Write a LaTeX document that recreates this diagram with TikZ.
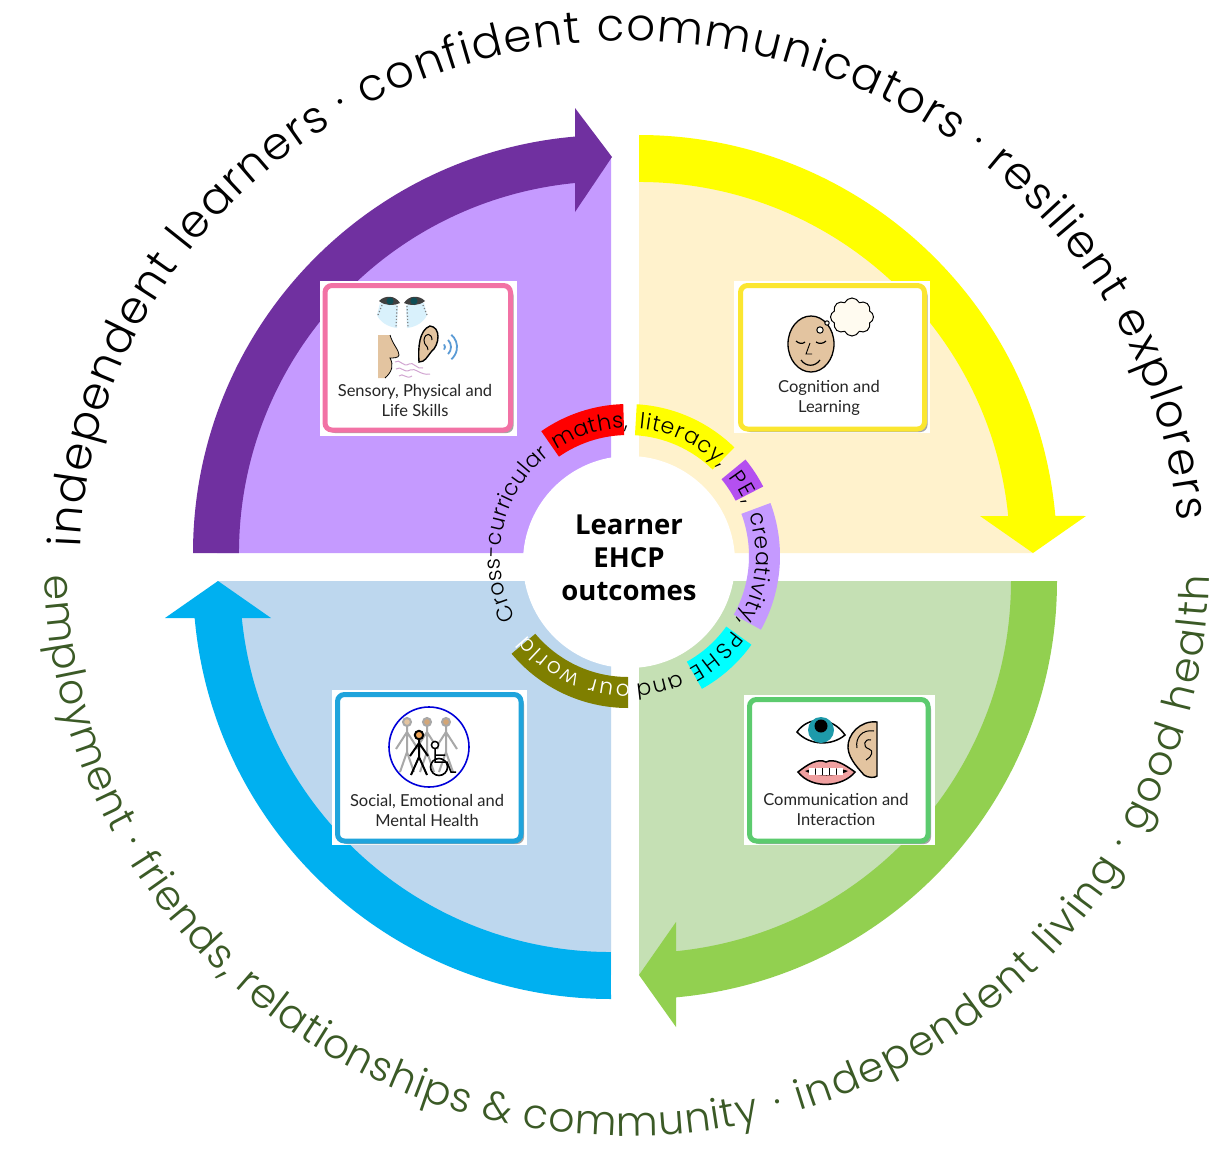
\documentclass[tikz,border=0pt]{standalone}
\usepackage{fontspec}
\usetikzlibrary{decorations.text,shapes.symbols,shadows}
\newfontfamily\arcfont{Poppins Light}
\newfontfamily\cardfont{Lato}
\newfontfamily\centerfont{Open Sans}
\definecolor{pBand}{HTML}{7030A0}
\definecolor{pFill}{HTML}{C59AFF}
\definecolor{yBand}{HTML}{FFFF00}
\definecolor{yFill}{HTML}{FFF2CC}
\definecolor{gBand}{HTML}{92D050}
\definecolor{gFill}{HTML}{C5E0B4}
\definecolor{bBand}{HTML}{00B0F0}
\definecolor{bFill}{HTML}{BDD7EE}
\definecolor{olivePatch}{HTML}{7F7F00}
\definecolor{outerGreen}{HTML}{3B5A26}
\definecolor{skin}{HTML}{E3C4A0}
\definecolor{cardPink}{HTML}{F272A5}
\definecolor{cardYellow}{HTML}{FBE630}
\definecolor{cardBlue}{HTML}{1FA4DC}
\definecolor{cardGreen}{HTML}{5CCB6E}
\definecolor{waveBlue}{HTML}{5B9BD5}
\definecolor{lipPink}{HTML}{F0A0A0}
\definecolor{tearBlue}{HTML}{D9F1FC}
\definecolor{pePurple}{HTML}{B450F0}
\definecolor{patchRed}{HTML}{FF0000}
\definecolor{patchYellow}{HTML}{FFFF00}
\definecolor{patchCyan}{HTML}{00FFFF}
\definecolor{irisTeal}{HTML}{1E9AAA}
\definecolor{figGrey}{HTML}{A8A8A8}
\tikzset{
  cardbox/.style={rounded corners=7pt,line width=5pt,fill=white,drop shadow={shadow xshift=3pt,shadow yshift=-3pt,fill=black!35,opacity=1}},
  cardtext/.style={font=\cardfont\fontsize{16.5}{20}\selectfont,align=center,text=black!85},
  ink/.style={draw=black,line width=1pt},
}
\newcommand{\ringseg}[4][]{%
  \path[decorate,decoration={text along path,text={|#1\arcfont\fontsize{22}{26}\selectfont|#4},text align={fit to path}}]
    (628,-556) ++(#2:128) arc[start angle=#2,end angle=#3,radius=128];}
\newcommand{\patch}[3]{%
  \fill[#3] ([shift={(#1:152)}]628,-556) arc[start angle=#1,end angle=#2,radius=152]
    -- ([shift={(#2:121)}]628,-556) arc[start angle=#2,end angle=#1,radius=121] -- cycle;}
\newcommand{\lowerseg}[3]{%
  \path[decorate,decoration={text along path,text={|\color{outerGreen}\arcfont\fontsize{41}{48}\selectfont|#3},text align={fit to path}}]
    (627,-566) ++(#1:582 and 570) arc[start angle=#1,end angle=#2,x radius=582,y radius=570];}
\begin{document}
\begin{tikzpicture}[x=1pt,y=1pt]
\useasboundingbox (0,0) rectangle (1227,-1167);
\fill[white] (0,0) rectangle (1227,-1167);
% wedges
\fill[pFill] (611,-553) -- ++(180:394) arc[start angle=180,end angle=90,radius=394] -- cycle;
\fill[yFill] (639,-553) -- ++(90:394) arc[start angle=90,end angle=0,radius=394] -- cycle;
\fill[gFill] (639,-581) -- ++(0:394) arc[start angle=0,end angle=-90,radius=394] -- cycle;
\fill[bFill] (611,-581) -- ++(-90:394) arc[start angle=-90,end angle=-180,radius=394] -- cycle;
% bands with arrowheads
\fill[pBand] (193,-553) arc[start angle=180,end angle=94.94,radius=418] -- (575,-108) -- (612,-157) -- (575,-212) -- (575,-183) arc[start angle=95.55,end angle=180,radius=372] -- cycle;
\fill[yBand] (639,-135) arc[start angle=90,end angle=5.09,radius=418] -- (1086,-516) -- (1033,-553) -- (980,-516) -- (1008.2,-516) arc[start angle=5.72,end angle=90,radius=371] -- cycle;
\fill[gBand] (1057,-581) arc[start angle=0,end angle=-84.92,radius=418] -- (676,-1027) -- (639,-975) -- (676,-922) -- (676,-951.2) arc[start angle=-84.29,end angle=0,radius=372] -- cycle;
\fill[bBand] (611,-999) arc[start angle=-90,end angle=-174.9,radius=418] -- (165,-618) -- (218,-581) -- (271,-618) -- (241.8,-618) arc[start angle=-174.28,end angle=-90,radius=371] -- cycle;
% centre
\fill[white] (629,-562) circle[radius=106];
\node[font=\centerfont\bfseries\fontsize{27.5}{33}\selectfont,align=center,text=black] (centre) at (629,-558) {Learner\\EHCP\\outcomes};
% ring patches
\patch{124.8}{91.8}{patchRed}
\patch{86.7}{45.6}{patchYellow}
\patch{39.4}{27.2}{pePurple}
\patch{20.4}{-29}{pFill}
\patch{-35.7}{-60.9}{patchCyan}
\patch{-90}{-140}{olivePatch}
% ring text
\ringseg{209}{128}{Cross-curricular}
\ringseg{124}{90}{maths,}
\ringseg{85}{44}{literacy,}
\ringseg{38}{24}{PE,}
\ringseg{19}{-31}{creativity,}
\ringseg{-35.5}{-61.6}{PSHE}
\ringseg{-66}{-86.5}{and}
\ringseg[\color{white}]{-89}{-142}{our world}
% outer arc text
\path[decorate,decoration={text along path,text={|\arcfont\fontsize{45}{52}\selectfont|independent learners · confident communicators · resilient explorers},text align={fit to path}}]
  (630,-566) ++(178:550 and 525) arc[start angle=178,end angle=5,x radius=550,y radius=525];
\lowerseg{181}{283.2}{employment · friends, relationships {\&} community}
\lowerseg{285}{359}{· independent living · good health}
% card backgrounds
\fill[white] (320,-281) rectangle (517,-436);
\fill[white] (734,-281) rectangle (930,-433);
\fill[white] (332,-690) rectangle (527,-845);
\fill[white] (744,-695) rectangle (935,-845);
\draw[cardbox,draw=cardPink] (325,-285.5) rectangle (510.5,-430);
\draw[cardbox,draw=cardYellow] (740.5,-285.5) rectangle (924.5,-429);
\draw[cardbox,draw=cardBlue] (337.5,-694.5) rectangle (521,-841);
\draw[cardbox,draw=cardGreen] (749.5,-699.5) rectangle (928,-841);
\node[cardtext] (sensory) at (415,-400) {Sensory, Physical and\\Life Skills};
\node[cardtext] (cognition) at (829,-398) {Cognition and\\Learning};
\node[cardtext] (social) at (427,-810) {Social, Emotional and\\Mental Health};
\node[cardtext] (communication) at (836,-809) {Communication and\\Interaction};
% --- sensory icon ---
\fill[tearBlue] (380,-303) -- (398,-305) -- (397,-328) .. controls (388,-327) and (380,-322) .. (377,-315) -- cycle;
\fill[tearBlue] (406,-305) -- (424,-303) -- (427,-315) .. controls (424,-322) and (416,-327) .. (407,-328) -- cycle;
\draw[gray,dotted,line width=1.2pt] (382,-305) -- (378,-315) (397,-306) -- (396,-328) (407,-306) -- (408,-328) (423,-305) -- (427,-315);
\fill[black!75] (379,-301) .. controls (385,-295) and (395,-295) .. (400,-303) .. controls (394,-306) and (385,-306) .. (379,-301) -- cycle;
\fill[black!75] (404,-303) .. controls (409,-295) and (419,-295) .. (425,-301) .. controls (419,-306) and (410,-306) .. (404,-303) -- cycle;
\fill[irisTeal!50!black] (390,-301) circle[radius=3.5] (414,-301) circle[radius=3.5];
\fill[skin] (378,-335) -- (390,-335) .. controls (393,-345) and (399,-350) .. (399,-355) .. controls (399,-358) and (393,-358) .. (390,-358) .. controls (394,-365) and (392,-372) .. (385,-378) -- (378,-378) -- cycle;
\draw[black,line width=.8pt] (390,-335) .. controls (393,-345) and (399,-350) .. (399,-355) .. controls (399,-358) and (393,-358) .. (390,-358) .. controls (394,-365) and (392,-372) .. (385,-378);
\draw[ink,fill=skin,line width=1.4pt] (419,-362) .. controls (418,-348) and (419,-330) .. (430,-326) .. controls (441,-327) and (440,-345) .. (431,-352) .. controls (427,-357) and (425,-362) .. (419,-362) -- cycle;
\draw[black,line width=1pt] (432,-340) .. controls (432,-333) and (425,-332) .. (424,-340) .. controls (424,-346) and (428,-345) .. (428,-350);
\draw[waveBlue,line width=1.8pt] (441,-347) ++(40:4) arc[start angle=40,end angle=-40,radius=4] (441,-347) ++(45:10) arc[start angle=45,end angle=-45,radius=10] (441,-347) ++(50:16) arc[start angle=50,end angle=-50,radius=16];
\draw[violet!35,line width=1pt] (395,-362) .. controls (400,-358) and (403,-368) .. (409,-364) .. controls (413,-361) and (417,-370) .. (423,-368)
  (396,-369) .. controls (401,-365) and (404,-374) .. (410,-370) .. controls (415,-367) and (421,-376) .. (430,-374)
  (399,-376) .. controls (403,-372) and (406,-380) .. (412,-376);
% --- cognition icon ---
\draw[ink,fill=skin,line width=1.3pt] (811,-344) ellipse[x radius=23,y radius=28];
\draw[black,line width=1.2pt] (796,-341) .. controls (799,-344) and (803,-344) .. (805,-342) (816,-342) .. controls (819,-344) and (823,-344) .. (826,-341);
\draw[black,line width=.9pt] (810,-343) -- (806,-354) -- (812,-354);
\draw[black,line width=1.2pt] (801,-360) .. controls (806,-367) and (815,-367) .. (820,-360);
\draw[ink,fill=yFill!30] (820,-330) circle[radius=3.2] (827,-323) circle[radius=2.2];
\node[cloud,cloud puffs=8,cloud puff arc=130,aspect=1.1,draw=black,line width=1pt,fill=yFill!30,minimum width=43pt,minimum height=38pt,inner sep=0pt] (thought) at (852,-317) {};
% --- social icon ---
\foreach \hx/\hc in {407/skin,427/brown!70,446/brown!45!skin}{
  \draw[figGrey,line width=2pt,fill=\hc] (\hx,-722) circle[radius=4];
  \draw[figGrey,line width=2pt] (\hx,-726) -- (\hx,-752) (\hx,-732) -- ++(-11,-17) (\hx,-732) -- ++(11,-17) (\hx,-752) -- ++(-7,-20) (\hx,-752) -- ++(7,-20);
}
\draw[blue!85!black,line width=1.6pt] (429,-747) circle[radius=40];
\draw[black,line width=2pt,fill=orange!45!skin] (419,-735) circle[radius=4.2];
\draw[black,line width=2pt] (419,-739) -- (419,-757) (419,-743) -- (410,-756) (419,-743) -- (428,-756) (419,-757) -- (411,-775) (419,-757) -- (427,-775);
\draw[black,line width=1.5pt,fill=white] (435,-745) circle[radius=3.6];
\draw[black,line width=1.6pt] (439,-767) circle[radius=8.5];
\draw[black,line width=1.5pt] (435,-749) -- (435,-762) -- (447,-762) -- (451,-772) -- (456,-772) (435,-755) -- (445,-755);
% --- communication icon ---
\draw[ink,fill=white,line width=1.5pt] (797,-732) .. controls (808,-716) and (832,-716) .. (845,-735) .. controls (832,-746) and (810,-746) .. (797,-732) -- cycle;
\fill[irisTeal] (821,-730) circle[radius=13];
\fill[black] (821,-726) circle[radius=6.5];
\draw[ink,fill=lipPink,line width=1.5pt] (798,-772) .. controls (808,-764) and (818,-758) .. (826,-762) .. controls (834,-758) and (844,-764) .. (855,-772) .. controls (843,-787) and (812,-790) .. (798,-772) -- cycle;
\fill[black] (805,-771) .. controls (815,-767) and (838,-767) .. (848,-771) .. controls (838,-777) and (815,-777) .. (805,-771) -- cycle;
\foreach \tx in {812,819,826,833,840}{\fill[white] (\tx-2.6,-768) rectangle (\tx+2.6,-775);}
\draw[ink,fill=skin,line width=1.4pt] (877,-722) .. controls (860,-720) and (847,-735) .. (848,-748) .. controls (849,-760) and (860,-770) .. (864,-775) .. controls (868,-778) and (875,-778) .. (877,-776) -- cycle;
\draw[black,line width=1pt] (874,-731) .. controls (862,-729) and (855,-738) .. (857,-748) (871,-740) .. controls (864,-738) and (862,-747) .. (869,-749) .. controls (874,-750) and (872,-757) .. (866,-760);
\end{tikzpicture}
\end{document}
